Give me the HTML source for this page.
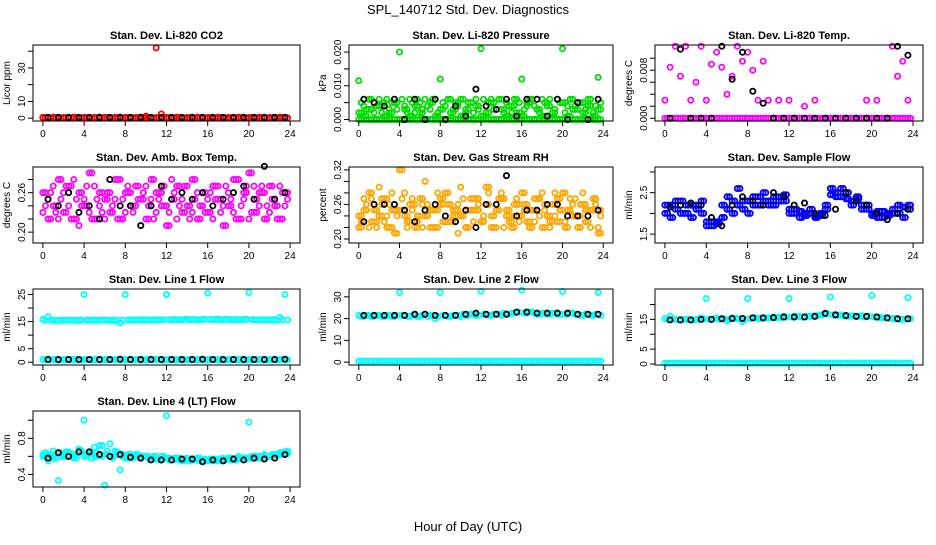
<!DOCTYPE html>
<html><head><meta charset="utf-8"><style>
body{margin:0;background:#fff;}
svg{font-family:"Liberation Sans",sans-serif;}
</style></head><body>
<svg id="c" width="936" height="540" viewBox="0 0 936 540">
<text x="468" y="14" text-anchor="middle" font-size="13">SPL_140712  Std. Dev. Diagnostics</text>
<text x="468" y="531" text-anchor="middle" font-size="13">Hour of Day (UTC)</text>
</svg>
<script>
const hoursA=[0,0.5,1,1.5,2,2.5,3,3.5,4,4.5,5,5.5,6,6.5,7,7.5,8,8.5,9,9.5,10,10.5,11,11.5,12,12.5,13,13.5,14,14.5,15,15.5,16,16.5,17,17.5,18,18.5,19,19.5,20,20.5,21,21.5,22,22.5,23,23.5];
const hoursC=[0.25,0.75,1.25,1.75,2.25,2.75,3.25,3.75,4.25,4.75,5.25,5.75,6.25,6.75,7.25,7.75,8.25,8.75,9.25,9.75,10.25,10.75,11.25,11.75,12.25,12.75,13.25,13.75,14.25,14.75,15.25,15.75,16.25,16.75,17.25,17.75,18.25,18.75,19.25,19.75,20.25,20.75,21.25,21.75,22.25,22.75,23.25,23.75];
const hoursB=[0.5,1.5,2.5,3.5,4.5,5.5,6.5,7.5,8.5,9.5,10.5,11.5,12.5,13.5,14.5,15.5,16.5,17.5,18.5,19.5,20.5,21.5,22.5,23.5];
const xTicks=[0,4,8,12,16,20,24];

const co2A=[0.5,0.4,0.6,0.5,0.4,0.5,0.6,0.4,0.5,0.5,0.4,0.6,0.5,0.4,0.5,0.6,0.5,0.4,0.5,0.6,1.2,0.5,42,2.5,0.5,0.4,0.6,0.5,0.4,0.5,0.6,0.5,0.4,0.5,0.6,0.5,0.4,0.5,0.6,0.5,0.4,0.5,0.6,0.5,0.4,0.5,0.6,0.5];
const co2B=[0.3,0.2,0.3,0.2,0.3,0.2,0.3,0.2,0.3,0.2,0.3,0.2,0.3,0.2,0.3,0.2,0.3,0.2,0.3,0.2,0.3,0.2,0.3,0.2,0.3,0.2,0.3,0.2,0.3,0.2,0.3,0.2,0.3,0.2,0.3,0.2,0.3,0.2,0.3,0.2,0.3,0.2,0.3,0.2,0.3,0.2,0.3,0.2];
const co2K=[0.5,0.5,0.5,0.5,0.5,0.5,0.5,0.5,0.5,0.5,0.5,0.5,0.5,0.5,0.5,0.5,0.5,0.5,0.5,0.5,0.5,0.5,0.5,0.5];

const presA=[0.0115,0.004,0.006,0.002,0.006,0.005,0.003,0.006,0.020,0.004,0.006,0.002,0.005,0.006,0.003,0.006,0.012,0.004,0.006,0.003,0.006,0.002,0.005,0.006,0.021,0.004,0.006,0.003,0.006,0.005,0.002,0.006,0.012,0.004,0.006,0.003,0.006,0.005,0.002,0.006,0.021,0.004,0.006,0.003,0.005,0.006,0.002,0.0125];
const presB=[0.002,0.001,0.003,0,0.004,0.001,0.002,0.005,0,0.003,0.001,0.004,0.002,0,0.005,0.001,0.003,0,0.002,0.005,0.001,0.003,0,0.004,0.001,0.002,0.005,0,0.003,0.001,0.004,0.002,0.001,0.005,0,0.003,0.001,0.004,0.002,0,0.005,0.001,0.003,0,0.002,0.004,0.001,0.003];
const presD=[0.005,0.003,0.006,0.004,0.002,0.006,0.005,0.003,0.006,0.002,0.005,0.006,0.003,0.004,0.006,0.002,0.005,0.006,0.003,0.004,0.006,0.005,0.002,0.003,0.006,0.005,0.003,0.006,0.002,0.004,0.006,0.005,0.003,0.006,0.004,0.002,0.005,0.006,0.003,0.005,0.002,0.006,0.004,0.005,0.003,0.006,0.004,0.005];
const presC=[0,0,0,0,0,0,0,0,0,0,0,0,0,0,0,0,0,0,0,0,0,0,0,0,0,0,0,0,0,0,0,0,0,0,0,0,0,0,0,0,0,0,0,0,0,0,0,0];
const presK=[0.006,0.005,0.004,0.006,0,0.006,0,0.006,0,0.004,0.001,0.009,0.004,0.003,0.006,0.001,0.006,0.006,0.001,0.006,0,0.005,0,0.006];

const tempA=[0.003,0.0085,0.012,0.007,0.012,0.003,0.006,0.012,0.003,0.009,0.011,0.0085,0.004,0.007,0.012,0.0095,0.011,0.008,0.003,0.0095,0.003,0,0.003,0,0.003,0,0,0.002,0,0.003,0,0,0,0,0,0,0,0,0,0.003,0,0.003,0,0,0.012,0.007,0.0095,0.003];
const tempB=presC;
const tempK=[0,0.0115,0,0,0,0.012,0.0065,0.011,0.0045,0.0025,0,0,0,0,0,0,0,0,0,0,0,0,0.012,0.0105];

const ambA=[0.23,0.25,0.27,0.22,0.26,0.24,0.28,0.21,0.25,0.23,0.27,0.24,0.22,0.26,0.25,0.28,0.23,0.26,0.24,0.21,0.27,0.25,0.23,0.26,0.24,0.28,0.22,0.25,0.27,0.23,0.26,0.24,0.25,0.22,0.27,0.24,0.26,0.23,0.28,0.25,0.22,0.27,0.24,0.26,0.23,0.25,0.27,0.24];
const ambB=[0.26,0.22,0.24,0.28,0.23,0.27,0.22,0.26,0.24,0.29,0.22,0.26,0.25,0.23,0.28,0.22,0.26,0.24,0.27,0.25,0.22,0.28,0.26,0.24,0.21,0.25,0.27,0.23,0.24,0.28,0.22,0.26,0.23,0.27,0.25,0.21,0.24,0.28,0.22,0.26,0.29,0.23,0.26,0.22,0.27,0.24,0.22,0.26];
const ambD=[0.24,0.26,0.23,0.25,0.27,0.22,0.25,0.24,0.27,0.22,0.25,0.23,0.26,0.24,0.22,0.25,0.27,0.23,0.25,0.26,0.24,0.22,0.25,0.27,0.23,0.26,0.24,0.27,0.22,0.25,0.24,0.23,0.26,0.25,0.23,0.27,0.25,0.22,0.24,0.27,0.23,0.25,0.27,0.24,0.25,0.22,0.26,0.25];
const ambK=[0.25,0.24,0.26,0.23,0.24,0.22,0.28,0.24,0.24,0.21,0.24,0.27,0.25,0.26,0.25,0.26,0.24,0.25,0.26,0.27,0.25,0.30,0.25,0.26];

const rhA=[0.24,0.27,0.22,0.25,0.29,0.23,0.26,0.21,0.25,0.28,0.23,0.26,0.24,0.30,0.22,0.25,0.27,0.23,0.26,0.24,0.29,0.22,0.25,0.27,0.23,0.26,0.24,0.22,0.28,0.25,0.23,0.27,0.24,0.26,0.22,0.25,0.28,0.24,0.23,0.27,0.25,0.22,0.26,0.24,0.28,0.23,0.25,0.22];
const rhB=[0.22,0.25,0.28,0.23,0.24,0.27,0.22,0.25,0.32,0.24,0.26,0.22,0.27,0.24,0.25,0.22,0.26,0.28,0.23,0.25,0.24,0.22,0.27,0.25,0.23,0.29,0.22,0.25,0.27,0.24,0.22,0.26,0.28,0.23,0.25,0.27,0.22,0.24,0.26,0.23,0.28,0.25,0.24,0.22,0.26,0.25,0.27,0.21];
const rhK=[0.23,0.26,0.26,0.26,0.25,0.23,0.25,0.26,0.24,0.23,0.25,0.22,0.26,0.26,0.31,0.24,0.25,0.25,0.26,0.26,0.24,0.24,0.24,0.25];

const sfA=[2.0,2.2,2.1,2.3,2.0,2.2,2.1,2.3,1.8,1.7,1.75,1.9,2.1,2.3,2.2,2.1,2.3,2.2,2.4,2.3,2.2,2.4,2.3,2.45,2.1,2.0,2.05,1.95,2.0,1.9,2.0,2.1,2.45,2.5,2.4,2.5,2.3,2.35,2.2,2.1,1.95,2.05,1.9,2.0,2.1,2.0,2.15,2.1];
const sfB=[2.2,1.9,2.3,2.0,2.2,1.9,2.2,2.0,1.7,1.8,1.8,2.2,2.4,2.0,2.6,2.3,2.0,2.4,2.2,2.5,2.3,2.2,2.4,2.3,2.0,2.1,1.9,2.0,2.1,1.95,1.95,2.2,2.6,2.4,2.6,2.35,2.2,2.4,2.1,2.2,2.0,1.9,2.05,1.95,2.0,2.2,1.9,2.2];
const sfK=[2.15,2.2,2.25,2.2,1.9,1.7,2.2,2.4,2.3,2.2,2.5,2.4,2.2,2.25,2.0,1.95,2.1,2.5,2.3,2.2,2.0,1.85,2.0,2.1];

const l1A=[15.8,16.8,15.5,15.4,15.5,15.6,15.5,15.4,25,15.5,15.6,15.5,15.7,15.4,15.3,14.5,25,15.6,15.5,15.7,15.6,15.5,15.7,15.6,25,15.6,15.7,15.6,15.8,15.7,15.6,15.8,25.5,15.7,15.8,15.7,15.8,15.6,15.7,15.8,25.8,15.7,15.6,15.7,15.6,15.7,16.5,25];
const l1C=[15.5,15.6,15.4,15.5,15.6,15.5,15.5,15.6,15.5,15.6,15.5,15.6,15.5,15.6,15.5,15.6,15.6,15.7,15.6,15.7,15.6,15.7,15.6,15.7,15.7,15.8,15.7,15.8,15.7,15.8,15.7,15.8,15.8,15.8,15.7,15.8,15.7,15.8,15.7,15.8,15.7,15.6,15.7,15.6,15.7,15.6,15.7,15.6];
const l1B=[1.0,0.9,1.0,0.8,1.0,0.9,1.0,0.8,1.0,0.9,1.0,0.8,1.0,0.9,1.0,0.8,1.0,0.9,1.0,0.8,1.0,0.9,1.0,0.8,1.0,0.9,1.0,0.8,1.0,0.9,1.0,0.8,1.0,0.9,1.0,0.8,1.0,0.9,1.0,0.8,1.0,0.9,1.0,0.8,1.0,0.9,1.0,0.8];
const l1K=[1.0,1.0,1.0,1.0,1.0,1.0,1.0,1.1,1.0,1.0,1.0,1.0,1.0,1.0,1.0,1.1,1.0,1.0,1.0,1.0,1.0,1.0,1.0,1.1];

const l2A=[21.5,21,21.5,21,21.5,21,21.5,21,32,21.5,21,21.5,21,22,21.5,20,32,21.5,21,21.5,21,21.5,22,21.5,32.5,22,21.5,22,21.5,22,22.5,23,33,22.5,23,22,22.5,22,22.5,22,32.5,22,22.5,22,21.5,22,21.5,32];
const l2C=[21,21.5,21,21.5,21,21.5,21,21.5,21.5,21,21.5,21,21.5,21,21.5,21,21.5,21,21.5,21.5,22,21.5,22,21.5,22,21.5,22,22,22.5,22,22.5,23,22.5,23,22.5,22,22.5,22,22.5,22,22,22.5,22,21.5,22,21.5,22,21.5];
const l2B=[0.5,0.5,0.5,0.5,0.5,0.5,0.5,0.5,0.5,0.5,0.5,0.5,0.5,0.5,0.5,0.5,0.5,0.5,0.5,0.5,0.5,0.5,0.5,0.5,0.5,0.5,0.5,0.5,0.5,0.5,0.5,0.5,0.5,0.5,0.5,0.5,0.5,0.5,0.5,0.5,0.5,0.5,0.5,0.5,0.5,0.5,0.5,0.5];
const l2K=[21.5,21.5,21.5,21.5,21.5,22,22,21.5,21.5,21.5,22,22.5,22,22,22,23,23,22.5,22.5,22.5,22.5,22,22,22];

const l3A=[15.3,16,15,15,15,15,15,15.5,22,15,15.5,15.2,14.5,15.5,15.3,14.3,22,15.5,15.3,15.5,15.5,15.8,15.8,16,22,16,16,15.8,16,16.2,16.5,17,22.5,16.5,16.5,16,16.2,16,16.2,16,23,15.8,15.6,15.5,15.3,15.2,15,22.3];
const l3C=[15,15.2,14.8,15,15,14.8,15,15.2,15,15.2,15,15.2,15,15.3,15.2,15,15.3,15.5,15.3,15.5,15.6,15.5,15.6,15.8,15.8,16,15.8,16,16,16.2,16.5,16.8,16.5,16.3,16.2,16,16.2,16,15.8,16,15.8,15.6,15.5,15.3,15.2,15,15,15.2];
const l3B=[0.3,0.3,0.3,0.3,0.3,0.3,0.3,0.3,0.3,0.3,0.3,0.3,0.3,0.3,0.3,0.3,0.3,0.3,0.3,0.3,0.3,0.3,0.3,0.3,0.3,0.3,0.3,0.3,0.3,0.3,0.3,0.3,0.3,0.3,0.3,0.3,0.3,0.3,0.3,0.3,0.3,0.3,0.3,0.3,0.3,0.3,0.3,0.3];
const l3K=[14.8,14.8,14.8,15,15,15.2,15.3,15.3,15.5,15.5,15.6,15.8,15.8,15.8,16,17,16.5,16.3,16,16,15.8,15.5,15.2,15.2];

const l4A=[0.62,0.55,0.66,0.33,0.62,0.65,0.6,0.68,1.0,0.63,0.7,0.62,0.28,0.74,0.66,0.45,0.6,0.62,0.6,0.58,0.6,0.58,0.6,0.56,1.05,0.57,0.58,0.56,0.58,0.56,0.57,0.55,0.56,0.57,0.55,0.58,0.57,0.56,0.6,0.58,0.98,0.6,0.6,0.62,0.6,0.62,0.64,0.65];
const l4B=[0.6,0.62,0.58,0.64,0.6,0.63,0.58,0.66,0.6,0.64,0.6,0.72,0.62,0.6,0.65,0.62,0.58,0.6,0.62,0.6,0.6,0.58,0.57,0.6,0.58,0.56,0.58,0.55,0.57,0.56,0.58,0.56,0.55,0.57,0.56,0.57,0.58,0.56,0.58,0.57,0.58,0.6,0.58,0.6,0.6,0.61,0.62,0.63];
const l4C=[0.64,0.6,0.63,0.6,0.65,0.6,0.62,0.66,0.62,0.58,0.64,0.6,0.66,0.58,0.62,0.6,0.62,0.58,0.6,0.6,0.58,0.6,0.56,0.58,0.56,0.58,0.56,0.57,0.55,0.57,0.55,0.57,0.57,0.55,0.57,0.56,0.56,0.58,0.57,0.58,0.6,0.58,0.6,0.6,0.62,0.62,0.64,0.66];
const l4K=[0.58,0.64,0.6,0.65,0.65,0.62,0.6,0.62,0.59,0.58,0.56,0.56,0.56,0.57,0.57,0.54,0.56,0.55,0.57,0.56,0.58,0.57,0.58,0.62];

const panels=[
 {name:'co2',title:'Stan. Dev. Li-820 CO2',yl:'Licor ppm',col:0,row:0,ymin:-1.7,ymax:43.7,ticks:[0,10,20,30,40],labels:['0','10','','30',''],color:'#ff0000',series:[co2B,co2A],half:[co2B],k:co2K},
 {name:'pressure',title:'Stan. Dev. Li-820 Pressure',yl:'kPa',col:1,row:0,ymin:-0.00045,ymax:0.0221,ticks:[0,0.005,0.010,0.015,0.020],labels:['0.000','','0.010','','0.020'],color:'#00dd00',series:[presC,presB,presA],half:[presC,presD,presB],k:presK},
 {name:'li820-temp',title:'Stan. Dev. Li-820 Temp.',yl:'degrees C',col:2,row:0,ymin:-0.00046,ymax:0.0122,ticks:[0,0.002,0.004,0.006,0.008,0.010],labels:['0.000','','','','0.008',''],color:'#ff00ff',series:[tempB,tempA],half:[tempB],k:tempK},
 {name:'amb-box-temp',title:'Stan. Dev. Amb. Box Temp.',yl:'degrees C',col:0,row:1,ymin:0.1835,ymax:0.299,ticks:[0.20,0.22,0.24,0.26,0.28],labels:['0.20','','','0.26',''],color:'#ff00ff',series:[ambA,ambB],half:[ambB,ambD],k:ambK},
 {name:'gas-stream-rh',title:'Stan. Dev. Gas Stream RH',yl:'percent',col:1,row:1,ymin:0.193,ymax:0.325,ticks:[0.20,0.22,0.24,0.26,0.28,0.30,0.32],labels:['0.20','','','0.26','','','0.32'],color:'#ffa500',series:[rhA,rhB],half:[ambA,ambD,rhB],k:rhK},
 {name:'sample-flow',title:'Stan. Dev. Sample Flow',yl:'ml/min',col:2,row:1,ymin:1.286,ymax:3.119,ticks:[1.5,2.0,2.5,3.0],labels:['1.5','','2.5',''],color:'#0000ff',series:[sfA,sfB],half:[sfB,sfA],k:sfK},
 {name:'line1-flow',title:'Stan. Dev. Line 1 Flow',yl:'ml/min',col:0,row:2,ymin:-1.04,ymax:27.04,ticks:[0,5,10,15,20,25],labels:['0','5','','15','','25'],color:'#00ffff',series:[l1B,l1A],half:[l1B,l1C],k:l1K},
 {name:'line2-flow',title:'Stan. Dev. Line 2 Flow',yl:'ml/min',col:1,row:2,ymin:-1.3,ymax:33.6,ticks:[0,10,20,30],labels:['0','10','20','30'],color:'#00ffff',series:[l2B,l2A],half:[l2B,l2C],k:l2K},
 {name:'line3-flow',title:'Stan. Dev. Line 3 Flow',yl:'ml/min',col:2,row:2,ymin:-0.33,ymax:25.2,ticks:[0,5,10,15,20],labels:['0','5','','15',''],color:'#00ffff',series:[l3B,l3A],half:[l3B,l3C],k:l3K},
 {name:'line4-flow',title:'Stan. Dev. Line 4 (LT) Flow',yl:'ml/min',col:0,row:3,ymin:0.26,ymax:1.103,ticks:[0.4,0.6,0.8,1.0],labels:['0.4','','0.8',''],color:'#00ffff',series:[l4B,l4A],half:[l4C,l4B],k:l4K}
];
const colX=[33,349,655],colW=[267,264,268],rowY=[45,167,289,411],rowH=76;
const NS='http://www.w3.org/2000/svg';
const svg=document.getElementById('c');
function mk(tag,attrs,parent){const e=document.createElementNS(NS,tag);for(const a in attrs)e.setAttribute(a,attrs[a]);parent.appendChild(e);return e;}
panels.forEach(p=>{
 const x0=colX[p.col],w=colW[p.col],y0=rowY[p.row],h=rowH;
 const g=mk('g',{},svg);
 
 
 const xs=v=>x0+(v+0.96)/25.92*w;
 const ys=v=>y0+h-(v-p.ymin)/(p.ymax-p.ymin)*h;
 const t=mk('text',{x:x0+w/2,y:y0-6,'text-anchor':'middle','font-size':11,'font-weight':'bold'},g);
 t.textContent=p.title;
 
 
 const yl=mk('text',{x:0,y:0,'text-anchor':'middle','font-size':10,transform:`translate(${x0-23},${y0+h/2}) rotate(-90)`},g);
 yl.textContent=p.yl;
 
 
 const pts=mk('g',{fill:'none','stroke-width':1.8},g);
 
 
 const plot=(s,hrs)=>s.forEach((v,i)=>{
   const c=mk('circle',{cx:xs(hrs[i]),cy:ys(v),r:2.6,stroke:p.color},pts);
   
   
 });
 p.half.forEach(s=>plot(s,hoursC));
 p.series.forEach(s=>plot(s,hoursA));
 p.k.forEach((v,i)=>{
   const c=mk('circle',{cx:xs(hoursB[i]),cy:ys(v),r:2.6,stroke:'#000'},pts);
   
   
 });
 const box=mk('rect',{x:x0,y:y0,width:w,height:h,fill:'none',stroke:'#000','stroke-width':1},g);
 
 
 xTicks.forEach(v=>{
   mk('line',{x1:xs(v),x2:xs(v),y1:y0+h,y2:y0+h+5,stroke:'#000'},g);
   const tl=mk('text',{x:xs(v),y:y0+h+16,'text-anchor':'middle','font-size':10},g);
   tl.textContent=v;
   
   
 });
 p.ticks.forEach((v,i)=>{
   mk('line',{x1:x0-5,x2:x0,y1:ys(v),y2:ys(v),stroke:'#000'},g);
   if(p.labels[i]){
     const tl=mk('text',{x:0,y:0,'text-anchor':'middle','font-size':10,transform:`translate(${x0-8},${ys(v)}) rotate(-90)`},g);
     tl.textContent=p.labels[i];
     
     
   }
 });
});
</script>
</body></html>
